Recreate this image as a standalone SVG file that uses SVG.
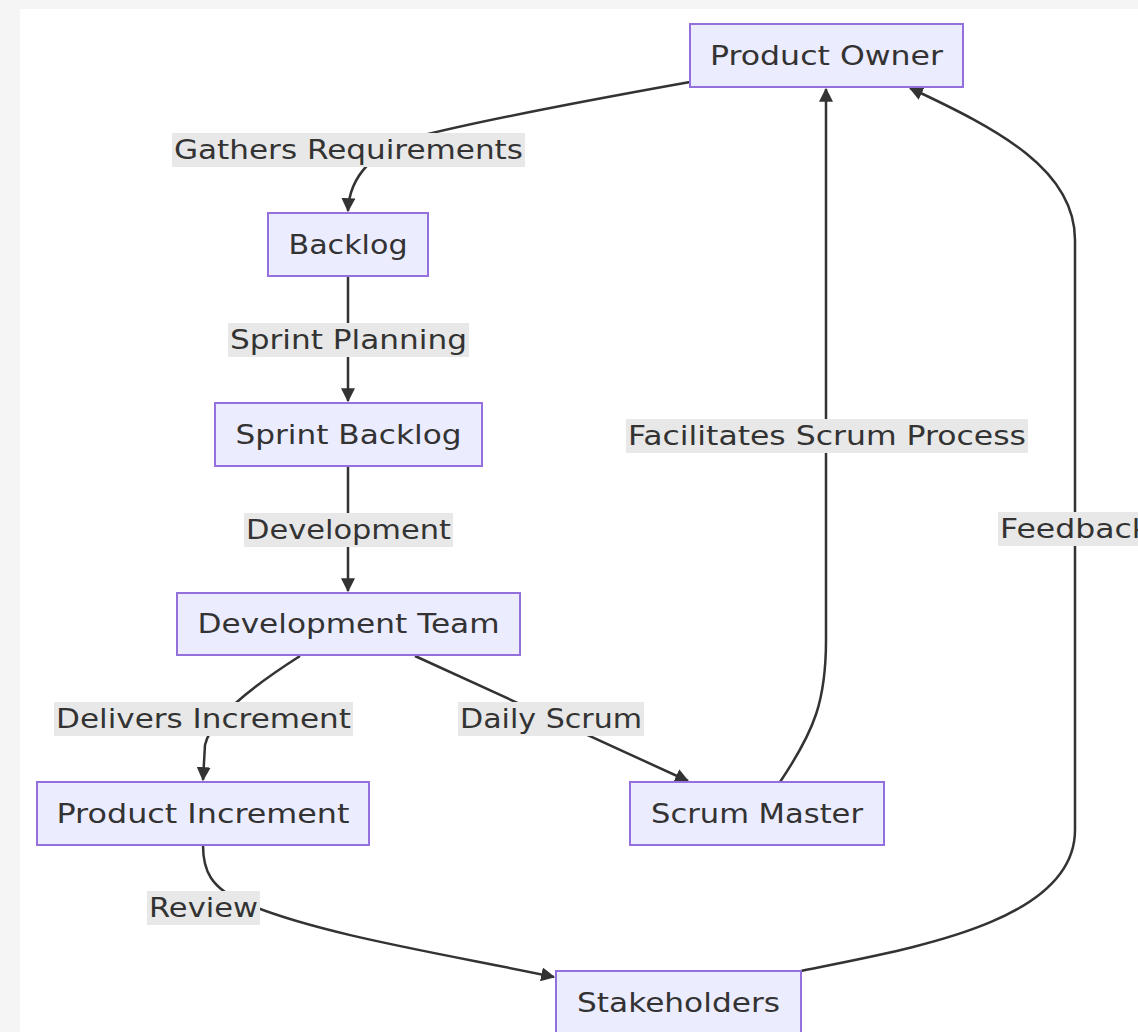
<svg xmlns="http://www.w3.org/2000/svg" width="1138" height="1032" viewBox="0 0 1138 1032">
<defs>
<style>
.node rect{fill:#ECECFF;stroke:#9370DB;stroke-width:2}
.node text,.lbl text{font-family:"DejaVu Sans",sans-serif;font-size:26px;fill:#333;text-anchor:middle;dominant-baseline:central}
.lbl rect{fill:#e8e8e8}
.edge{fill:none;stroke:#333;stroke-width:2.5}
</style>
<marker id="arr" viewBox="0 0 10 10" refX="9" refY="5" markerWidth="6" markerHeight="6" markerUnits="userSpaceOnUse" orient="auto-start-reverse">
<path d="M0,0 L10,5 L0,10 z" fill="#333"/>
</marker>
<marker id="ah" viewBox="0 0 12 12" refX="11" refY="6" markerWidth="14" markerHeight="14" markerUnits="userSpaceOnUse" orient="auto">
<path d="M0,0 L12,6 L0,12 z" fill="#333"/>
</marker>
</defs>
<rect x="0" y="0" width="1138" height="1032" fill="#f5f5f5"/>
<rect x="20" y="9" width="1118" height="1023" fill="#ffffff"/>

<g id="connectors">
<path class="edge" d="M690,82 Q500,116 420,136 Q350,158 348,211" marker-end="url(#ah)"/>
<path class="edge" d="M348,276 L348,401" marker-end="url(#ah)"/>
<path class="edge" d="M348,466 L348,591" marker-end="url(#ah)"/>
<path class="edge" d="M300,656 Q212,712 205,745 L203,780" marker-end="url(#ah)"/>
<path class="edge" d="M415,656 L688,781" marker-end="url(#ah)"/>
<path class="edge" d="M780,782 C815,730 826,700 826,640 L826,89" marker-end="url(#ah)"/>
<path class="edge" d="M203,845 C203,870 210,888 245,903 C320,935 450,955 554,977" marker-end="url(#ah)"/>
<path class="edge" d="M801,971 C900,950 1075,925 1075,830 L1075,240 C1075,170 1000,130 910,88" marker-end="url(#ah)"/>
</g>

<g id="edge-labels">
<g class="lbl"><rect x="172" y="133" width="353" height="34"/><text x="348.5" y="150" textLength="349" lengthAdjust="spacingAndGlyphs">Gathers Requirements</text></g>
<g class="lbl"><rect x="228" y="323" width="241" height="34"/><text x="348.5" y="340" textLength="237" lengthAdjust="spacingAndGlyphs">Sprint Planning</text></g>
<g class="lbl"><rect x="244" y="513" width="209" height="34"/><text x="348.5" y="530" textLength="205" lengthAdjust="spacingAndGlyphs">Development</text></g>
<g class="lbl"><rect x="54" y="702" width="299" height="34"/><text x="203.5" y="719" textLength="295" lengthAdjust="spacingAndGlyphs">Delivers Increment</text></g>
<g class="lbl"><rect x="458" y="702" width="186" height="34"/><text x="551" y="719" textLength="182" lengthAdjust="spacingAndGlyphs">Daily Scrum</text></g>
<g class="lbl"><rect x="147" y="891" width="113" height="34"/><text x="203.5" y="908" textLength="109" lengthAdjust="spacingAndGlyphs">Review</text></g>
<g class="lbl"><rect x="626" y="419" width="402" height="34"/><text x="827" y="436" textLength="398" lengthAdjust="spacingAndGlyphs">Facilitates Scrum Process</text></g>
<g class="lbl"><rect x="998" y="512" width="154" height="34"/><text x="1075" y="529" textLength="150" lengthAdjust="spacingAndGlyphs">Feedback</text></g>
</g>

<g id="product-owner" class="node"><rect x="690" y="24" width="273" height="63"/><text x="826.5" y="55.5" textLength="233" lengthAdjust="spacingAndGlyphs">Product Owner</text></g>
<g id="backlog" class="node"><rect x="268" y="213" width="160" height="63"/><text x="348" y="244.5" textLength="119" lengthAdjust="spacingAndGlyphs">Backlog</text></g>
<g id="sprint-backlog" class="node"><rect x="215" y="403" width="267" height="63"/><text x="348.5" y="434.5" textLength="226" lengthAdjust="spacingAndGlyphs">Sprint Backlog</text></g>
<g id="development-team" class="node"><rect x="177" y="593" width="343" height="62"/><text x="348.5" y="624" textLength="302" lengthAdjust="spacingAndGlyphs">Development Team</text></g>
<g id="product-increment" class="node"><rect x="37" y="782" width="332" height="63"/><text x="203" y="813.5" textLength="293" lengthAdjust="spacingAndGlyphs">Product Increment</text></g>
<g id="scrum-master" class="node"><rect x="630" y="782" width="254" height="63"/><text x="757" y="813.5" textLength="212" lengthAdjust="spacingAndGlyphs">Scrum Master</text></g>
<g id="stakeholders" class="node"><rect x="556" y="971" width="245" height="63"/><text x="678.5" y="1002.5" textLength="203" lengthAdjust="spacingAndGlyphs">Stakeholders</text></g>
</svg>
